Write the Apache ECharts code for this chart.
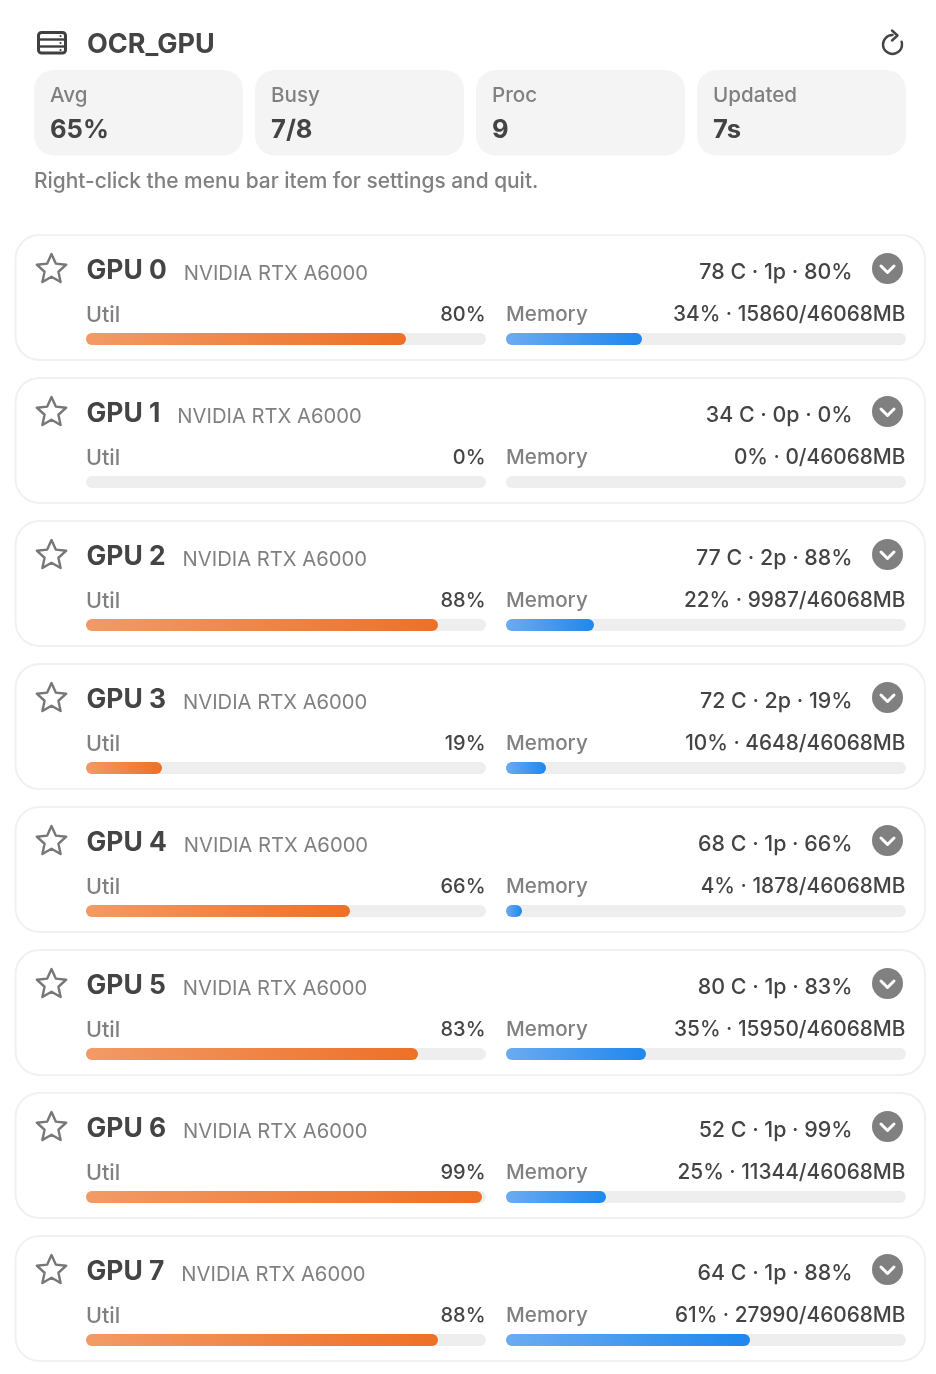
<!DOCTYPE html>
<html>
<head>
<meta charset="utf-8">
<title>OCR_GPU</title>
<script src="https://cdn.jsdelivr.net/npm/echarts@6/dist/echarts.min.js"></script>
<style>
html,body{margin:0;padding:0;background:#fff;}
#main{width:936px;height:1374px;}
</style>
</head>
<body>
<div id="main"></div>
<script>
var hostName = 'OCR_GPU';
var statLabels = ['Avg', 'Busy', 'Proc', 'Updated'];
var statValues = ['65%', '7/8', '9', '7s'];
var hintText = 'Right-click the menu bar item for settings and quit.';
var gpuNames = ['GPU 0', 'GPU 1', 'GPU 2', 'GPU 3', 'GPU 4', 'GPU 5', 'GPU 6', 'GPU 7'];
var gpuModel = 'NVIDIA RTX A6000';
var gpuTemps = [78, 34, 77, 72, 68, 80, 52, 64];
var gpuProcs = [1, 0, 2, 2, 1, 1, 1, 1];
var gpuUtil = [80, 0, 88, 19, 66, 83, 99, 88];
var memPercent = [34, 0, 22, 10, 4, 35, 25, 61];
var memUsed = [15860, 0, 9987, 4648, 1878, 15950, 11344, 27990];
var memTotal = 46068;

var FONT = 'Inter, "Noto Sans", sans-serif';
var chart = echarts.init(document.getElementById('main'), null, {renderer: 'canvas'});

function txt(x, y, text, size, weight, color, align) {
    return {
        type: 'text',
        x: x,
        y: y,
        style: {
            text: text,
            font: weight + ' ' + size + 'px ' + FONT,
            fill: color,
            align: align || 'left',
            verticalAlign: 'middle'
        }
    };
}

function starPoints(cx, cy, r) {
    var pts = [];
    for (var i = 0; i < 10; i++) {
        var rad = i % 2 ? r * 0.47 : r;
        var a = -Math.PI / 2 + i * Math.PI / 5;
        pts.push([cx + rad * Math.cos(a), cy + rad * Math.sin(a)]);
    }
    return pts;
}

var graphics = [];

// header
graphics.push({type: 'rect', shape: {x: 38.5, y: 32.5, width: 27, height: 20.5, r: 3}, style: {fill: 'none', stroke: '#3f3f3f', lineWidth: 3}});
graphics.push({type: 'line', shape: {x1: 38, y1: 39.5, x2: 66, y2: 39.5}, style: {stroke: '#3f3f3f', lineWidth: 2.4}});
graphics.push({type: 'line', shape: {x1: 38, y1: 46.5, x2: 66, y2: 46.5}, style: {stroke: '#3f3f3f', lineWidth: 2.4}});
[36, 43, 50].forEach(function (y) {
    graphics.push({type: 'circle', shape: {cx: 60.5, cy: y, r: 1.1}, style: {fill: '#3f3f3f'}});
});
graphics.push(txt(87, 44.5, hostName, 27, 700, '#444'));
graphics.push({type: 'arc', shape: {cx: 892.5, cy: 44.5, r: 9.5, startAngle: -Math.PI / 2, endAngle: -0.3, clockwise: false},
    style: {fill: 'none', stroke: '#444', lineWidth: 2.4, lineCap: 'round'}});
graphics.push({type: 'polyline', shape: {points: [[892, 30.5], [897.5, 35.5], [892, 40.5]]},
    style: {fill: 'none', stroke: '#444', lineWidth: 2.4, lineCap: 'round', lineJoin: 'round'}});

// stat tiles
statLabels.forEach(function (label, i) {
    var x = 34 + i * 221;
    graphics.push({type: 'rect', shape: {x: x, y: 70, width: 209, height: 85.5, r: 20}, style: {fill: '#f4f4f4'}});
    graphics.push(txt(x + 16, 96, label, 20.6, 500, '#808080'));
    graphics.push(txt(x + 16, 130.5, statValues[i], 25.6, 700, '#444'));
});
graphics.push(txt(34, 182, hintText, 20.9, 500, '#808080'));

// cards, one per gpu
var grids = [], xAxes = [], yAxes = [], series = [];

function addBar(left, top, value, from, to) {
    var idx = grids.length;
    grids.push({left: left, top: top, width: 400, height: 12});
    xAxes.push({type: 'value', gridIndex: idx, min: 0, max: 100, show: false});
    yAxes.push({type: 'category', gridIndex: idx, data: ['v'], show: false});
    series.push({
        type: 'bar',
        xAxisIndex: idx,
        yAxisIndex: idx,
        barWidth: 12,
        silent: true,
        animation: false,
        showBackground: true,
        backgroundStyle: {color: '#eeeeee', borderRadius: 6},
        itemStyle: {
            borderRadius: 6,
            color: new echarts.graphic.LinearGradient(0, 0, 1, 0, [
                {offset: 0, color: from},
                {offset: 1, color: to}
            ])
        },
        data: [value]
    });
}

gpuNames.forEach(function (name, i) {
    var dy = i * 143;
    graphics.push({type: 'rect', shape: {x: 15.5, y: 235 + dy, width: 909.5, height: 125, r: 24},
        style: {fill: '#fff', stroke: '#f1f1f1', lineWidth: 2}});
    graphics.push({type: 'polygon', shape: {points: starPoints(51.5, 269.5 + dy, 15.5)},
        style: {fill: 'none', stroke: '#777', lineWidth: 2.4, lineJoin: 'round'}});
    graphics.push({
        type: 'text',
        x: 86.5,
        y: 271 + dy,
        style: {
            text: '{a|' + name + '}{b|' + gpuModel + '}',
            verticalAlign: 'middle',
            rich: {
                a: {font: '700 26.4px ' + FONT, fill: '#444', lineHeight: 30},
                b: {font: '400 20.2px ' + FONT, fill: '#808080', padding: [5, 0, 0, 17], lineHeight: 30}
            }
        }
    });
    var status = gpuTemps[i] + ' C · ' + gpuProcs[i] + 'p · ' + gpuUtil[i] + '%';
    graphics.push(txt(852.5, 273 + dy, status, 21.4, 500, '#444', 'right'));
    graphics.push({type: 'circle', shape: {cx: 887.5, cy: 268.5 + dy, r: 15.5}, style: {fill: '#808080'}});
    graphics.push({type: 'polyline', shape: {points: [[881, 266 + dy], [887.5, 272.5 + dy], [894, 266 + dy]]},
        style: {fill: 'none', stroke: '#fff', lineWidth: 3, lineCap: 'round', lineJoin: 'round'}});

    graphics.push(txt(86, 315 + dy, 'Util', 21.6, 500, '#808080'));
    graphics.push(txt(485.5, 315 + dy, gpuUtil[i] + '%', 20, 500, '#444', 'right'));
    graphics.push(txt(506, 315 + dy, 'Memory', 20.6, 500, '#808080'));
    graphics.push(txt(905.5, 315 + dy, memPercent[i] + '% · ' + memUsed[i] + '/' + memTotal + 'MB', 20.8, 500, '#444', 'right'));

    addBar(86, 333 + dy, gpuUtil[i], '#f29a66', '#ee7026');
    addBar(506, 333 + dy, memPercent[i], '#6cabf1', '#1f87ee');
});

chart.setOption({
    animation: false,
    backgroundColor: '#ffffff',
    grid: grids,
    xAxis: xAxes,
    yAxis: yAxes,
    graphic: {elements: graphics},
    series: series
});
</script>
</body>
</html>
